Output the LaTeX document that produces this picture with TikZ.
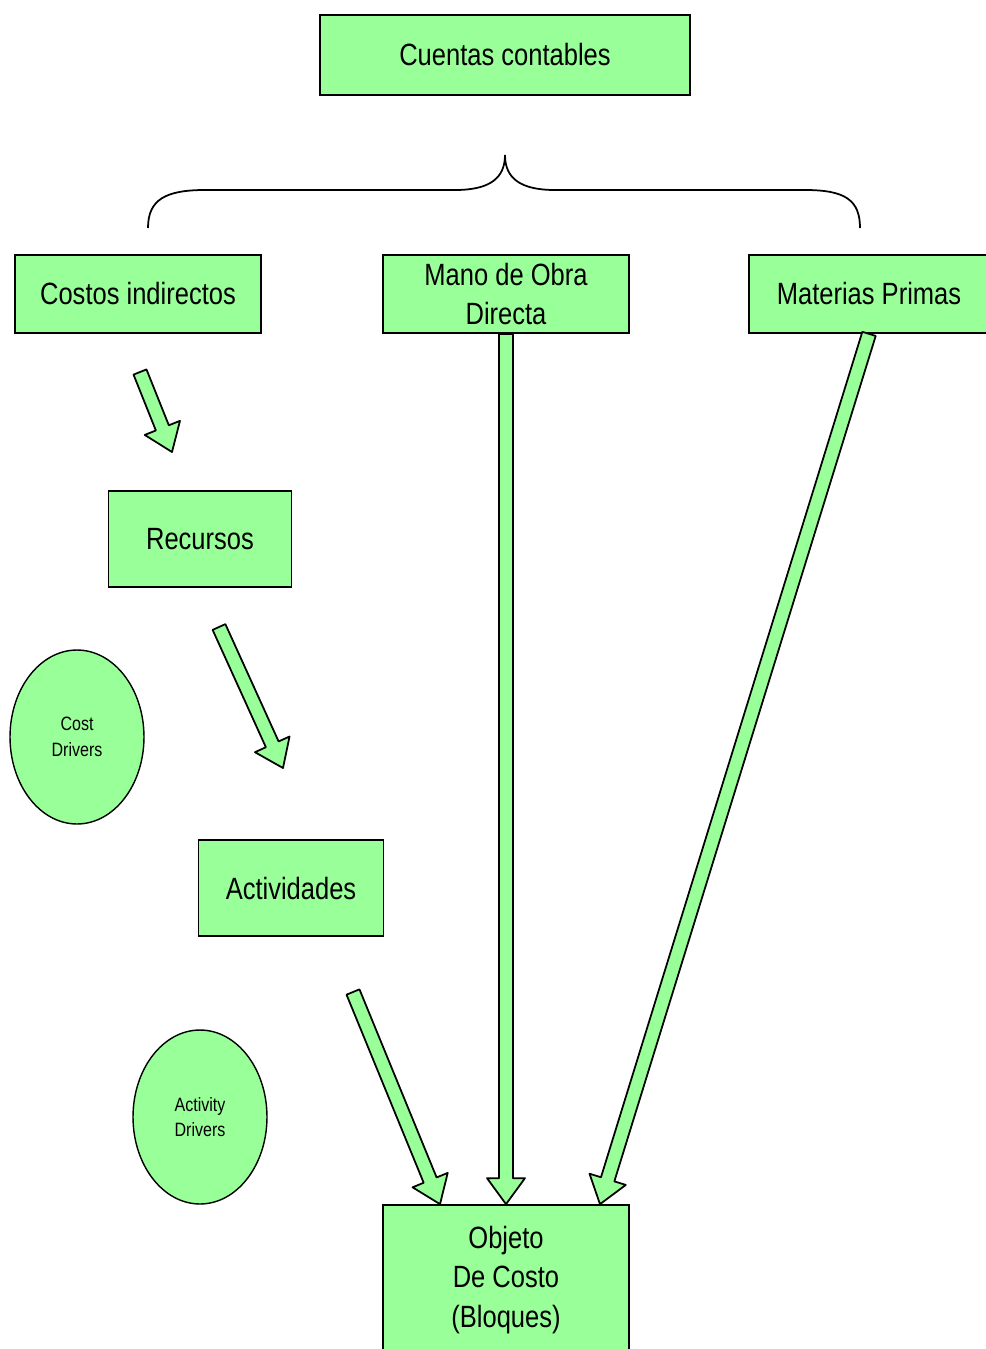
\documentclass[tikz,border=0pt]{standalone}
\usepackage{fontspec}
\setmainfont{Liberation Sans}[FakeStretch=0.83]
\usepackage{tikz}
\usetikzlibrary{calc,shapes.geometric}

\definecolor{boxgreen}{RGB}{153,255,153}

% fat block arrow between two points
\newcommand{\bigarrow}[2]{%
  \coordinate (ah) at ($(#2)!0.52cm!(#1)$);
  \draw[arrowbody] ($(#1)!0.14cm!90:(#2)$) -- ($(ah)!0.14cm!90:(#2)$)
     -- ($(ah)!0.38cm!90:(#2)$) -- (#2) -- ($(ah)!0.38cm!-90:(#2)$)
     -- ($(ah)!0.14cm!-90:(#2)$) -- ($(#1)!0.14cm!-90:(#2)$) -- cycle;}

\begin{document}
\begin{tikzpicture}[x=0.02cm,y=-0.02cm,
    box/.style={draw=black,fill=boxgreen,line width=1pt,rectangle,
                align=center,inner sep=0pt,font=\fontsize{17.5}{22.7}\selectfont},
    driver/.style={draw=black,fill=boxgreen,line width=0.8pt,ellipse,inner sep=0pt,
                minimum width=2.68cm,minimum height=3.48cm,align=center,
                font=\fontsize{11}{14.7}\selectfont},
    arrowbody/.style={draw=black,fill=boxgreen,line width=1pt,line join=round}]
  \useasboundingbox (0,0) rectangle (985,1349);

  % boxes
  \node[box,minimum width=7.4cm,minimum height=1.6cm]   (cuentas)  at (505,55)   {Cuentas contables};
  \node[box,minimum width=4.92cm,minimum height=1.56cm] (costos)   at (138,294)  {Costos indirectos};
  \node[box,minimum width=4.92cm,minimum height=1.56cm] (mano)     at (506,294)  {Mano de Obra\\Directa};
  \node[box,minimum width=4.8cm,minimum height=1.56cm]  (materias) at (869,294)  {Materias Primas};
  \node[box,minimum width=3.66cm,minimum height=1.92cm] (recursos) at (200,539)  {Recursos};
  \node[box,minimum width=3.7cm,minimum height=1.92cm]  (activ)    at (291,888)  {Actividades};
  \node[box,minimum width=4.92cm,minimum height=3cm]    (objeto)   at (506,1280) {Objeto\\De Costo\\(Bloques)};

  % drivers
  \node[driver] (costdrv) at (77,737)  {Cost\\Drivers};
  \node[driver] (actdrv)  at (200,1117) {Activity\\Drivers};

  % brace
  \draw[line width=1pt] (148,228) .. controls (148,200) and (165,190) .. (205,190)
        -- (455,190) .. controls (490,190) and (505,178) .. (505,155)
        .. controls (505,178) and (520,190) .. (555,190)
        -- (805,190) .. controls (845,190) and (860,200) .. (860,228);

  % arrow ends
  \coordinate (t1) at (140,372);  \coordinate (h1) at (172,452);
  \coordinate (t2) at (219,627);  \coordinate (h2) at (283,768);
  \coordinate (t3) at (353,992);
  \coordinate (h3) at ([xshift=-1.32cm]objeto.north);
  \coordinate (h5) at ([xshift=1.88cm]objeto.north);

  \bigarrow{t1}{h1}
  \bigarrow{t2}{h2}
  \bigarrow{t3}{h3}
  \bigarrow{mano.south}{objeto.north}
  \bigarrow{materias.south}{h5}
\end{tikzpicture}
\end{document}
